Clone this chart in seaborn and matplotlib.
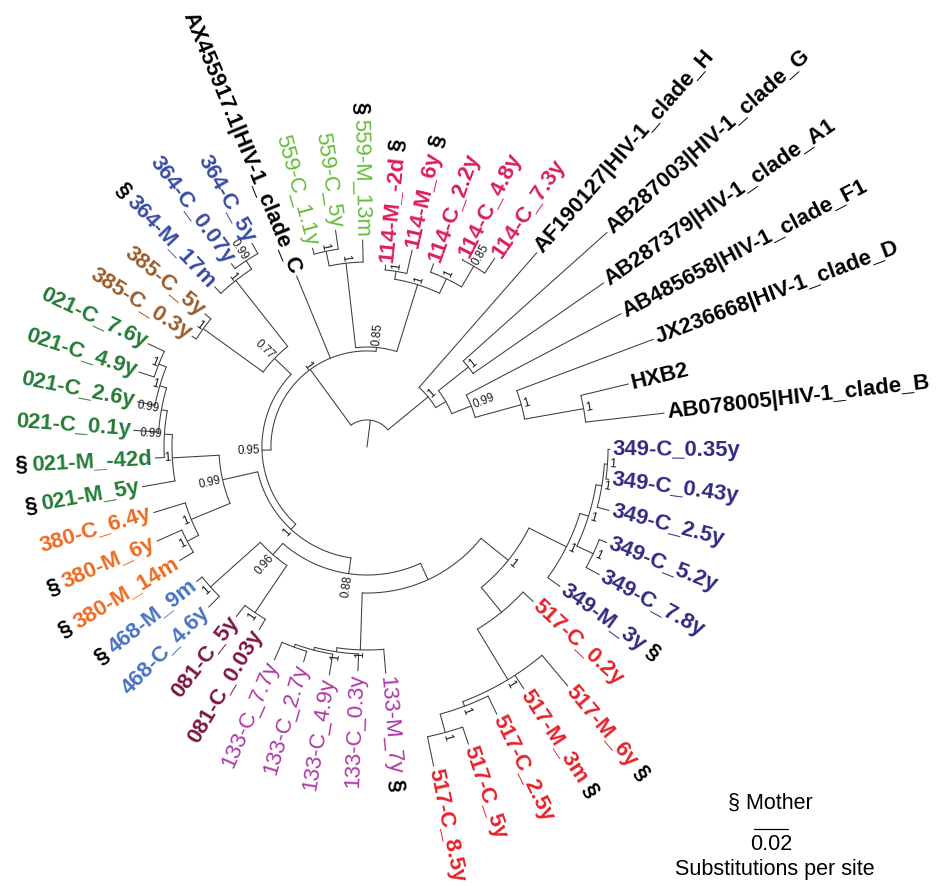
import numpy as np
import pandas as pd
import matplotlib
matplotlib.use("Agg")
import matplotlib.pyplot as plt
import seaborn as sns

sns.set_theme(style="white")
plt.rcParams["font.family"] = ["Liberation Sans", "DejaVu Sans"]

# ---------------------------------------------------------------- tree data
# Tips, listed counter-clockwise starting from the clade B reference
leaf_labels = [
    "AB078005|HIV-1_clade_B", "HXB2", "JX236668|HIV-1_clade_D", "AB485658|HIV-1_clade_F1",
    "AB287379|HIV-1_clade_A1", "AB287003|HIV-1_clade_G", "AF190127|HIV-1_clade_H",
    "114-C_7.3y", "114-C_4.8y", "114-C_2.2y", "114-M_6y", "114-M_-2d",
    "559-M_13m", "559-C_5y", "559-C_1.1y",
    "AX455917.1|HIV-1_clade_C",
    "364-C_5y", "364-C_0.07y", "364-M_17m",
    "385-C_5y", "385-C_0.3y",
    "021-C_7.6y", "021-C_4.9y", "021-C_2.6y", "021-C_0.1y", "021-M_-42d", "021-M_5y",
    "380-C_6.4y", "380-M_6y", "380-M_14m",
    "468-M_9m", "468-C_4.6y",
    "081-C_5y", "081-C_0.03y",
    "133-C_7.7y", "133-C_2.7y", "133-C_4.9y", "133-C_0.3y", "133-M_7y",
    "517-C_8.5y", "517-C_5y", "517-C_2.5y", "517-M_3m", "517-M_6y", "517-C_0.2y",
    "349-M_3y", "349-C_7.8y", "349-C_5.2y", "349-C_2.5y", "349-C_0.43y", "349-C_0.35y",
]
leaf_parent = [
    "HB", "HB", "Dn", "Fn", "GA", "GA", "Nout",
    "N114CC", "N114CC", "N114C", "N114M", "N114M",
    "N559", "N559C", "N559C",
    "Nin",
    "N364C", "N364C", "N364",
    "N385", "N385",
    "X4", "X4", "X3", "X2", "X1", "N021",
    "N380", "N380M", "N380M",
    "N468", "N468",
    "N081", "N081",
    "Y3", "Y3", "Y2", "Y1", "N133",
    "Cn2", "Cn2", "Cn1", "N517b", "N517b", "N517",
    "N349", "N5278", "N5278", "Z1", "Z2", "Z2",
]
# distance from the centre of the tree (substitutions per site)
leaf_depth = [
    0.1759, 0.1582, 0.1800, 0.1688, 0.1694, 0.1894, 0.1518,
    0.1341, 0.1241, 0.1147, 0.1188, 0.1076,
    0.1218, 0.1288, 0.1212,
    0.1088,
    0.1376, 0.1341, 0.1300,
    0.1235, 0.1218,
    0.1424, 0.1412, 0.1376, 0.1376, 0.1247, 0.1341,
    0.1312, 0.1353, 0.1288,
    0.1276, 0.1324,
    0.1259, 0.1247,
    0.1365, 0.1318, 0.1359, 0.1318, 0.1335,
    0.1918, 0.1847, 0.1747, 0.1694, 0.1835, 0.1335,
    0.1400, 0.1559, 0.1518, 0.1471, 0.1435, 0.1429,
]

node_names = ["root", "Nout", "N2", "GA", "Fn", "Dn", "HB",
              "Nin", "N085", "N559", "N559C", "N114", "N114M", "N114C", "N114CC",
              "N095", "N077", "N364", "N364C", "N385",
              "NA", "N099", "N021", "X1", "X2", "X3", "X4", "N380", "N380M",
              "NB", "N096", "N468", "N081",
              "N088", "N133", "Y1", "Y2", "Y3",
              "N35", "N349", "N349C", "Z1", "Z2", "N5278",
              "N517", "N517b", "Cn1", "Cn2"]
node_parents = [None, "root", "Nout", "N2", "N2", "Fn", "Dn",
                "root", "Nin", "N085", "N559", "N085", "N114", "N114", "N114C",
                "Nin", "N095", "N077", "N364", "N077",
                "N095", "NA", "N099", "N021", "X1", "X2", "X3", "N099", "N380",
                "NA", "NB", "N096", "N096",
                "NB", "N088", "N133", "Y1", "Y2",
                "N088", "N35", "N349", "N349C", "Z1", "N349C",
                "N35", "N517", "N517b", "Cn1"]
node_depth = [0.0159, 0.0465, 0.0535, 0.0759, 0.0659, 0.0941, 0.1294,
              0.0565, 0.0588, 0.1088, 0.1176, 0.1000, 0.1047, 0.1094, 0.1235,
              0.0618, 0.0753, 0.1247, 0.1306, 0.1188,
              0.0659, 0.0871, 0.1147, 0.1194, 0.1229, 0.1271, 0.1318, 0.1118, 0.1194,
              0.0753, 0.0841, 0.1235, 0.1176,
              0.0859, 0.1194, 0.1218, 0.1235, 0.1253,
              0.1065, 0.1312, 0.1365, 0.1400, 0.1418, 0.1471,
              0.1253, 0.1600, 0.1629, 0.1741]
# posterior support shown at nodes (None = not shown)
node_support = [None, 1, None, 1, 0.99, 1, 1,
                1, 0.85, 1, 1, 1, 1, 1, 0.85,
                0.95, 0.77, 1, 0.99, 1,
                1, 0.99, 1, 0.99, 0.99, 1, 1, 1, 1,
                0.88, 0.96, 1, 1,
                None, 1, 1, None, None,
                1, 1, 1, 1, 1, 1,
                None, 1, 1, 1]

group_colors = {
    "ref": "#000000", "114": "#DA1E5C", "559": "#66BC38", "364": "#3A4CA3",
    "385": "#9A5D2B", "021": "#247B36", "380": "#EE6B21", "468": "#4773C3",
    "081": "#7B1646", "133": "#AE36A6", "517": "#E4232A", "349": "#2F2A80",
}
light_groups = {"559", "133"}

scale_value = 0.02
scale_label = "Substitutions per site"
legend_label = "\u00a7 Mother"

# ---------------------------------------------------------------- layout
PX_PER_SUB = 1700.0           # drawing scale (pixels per substitution/site)
CX, CY = 367.0, 447.0         # centre of the circular layout
START_ANGLE = 6.5             # angle of the first tip (degrees)
STEP = 360.0 / len(leaf_labels)

children = {}
depth = {}
for n, p, d in zip(node_names, node_parents, node_depth):
    depth[n] = d
    if p is not None:
        children.setdefault(p, []).append(n)
for lab, p, d in zip(leaf_labels, leaf_parent, leaf_depth):
    depth[lab] = d
    children.setdefault(p, []).append(lab)

angle = {lab: START_ANGLE + i * STEP for i, lab in enumerate(leaf_labels)}


def place(n):
    # internal nodes sit at the mean angle of their children
    if n in angle:
        return angle[n]
    a = [place(c) for c in children[n]]
    angle[n] = float(np.mean(a))
    return angle[n]


place("root")


def xy(r, th):
    t = np.deg2rad(th)
    return CX + r * np.cos(t), CY - r * np.sin(t)


# branch geometry as a long table for seaborn
rows = []
seg = 0
parent_of = dict(zip(node_names, node_parents))
parent_of.update(dict(zip(leaf_labels, leaf_parent)))
for n, p in parent_of.items():
    if p is None:
        r0, r1 = 0.0, depth[n] * PX_PER_SUB   # root stub
    else:
        r0, r1 = depth[p] * PX_PER_SUB, depth[n] * PX_PER_SUB
    for r in (r0, r1):
        x, y = xy(r, angle[n])
        rows.append((seg, x, y))
    seg += 1
for n, ch in children.items():
    a = [angle[c] for c in ch]
    r = depth[n] * PX_PER_SUB
    for th in np.linspace(min(a), max(a), 80):
        x, y = xy(r, th)
        rows.append((seg, x, y))
    seg += 1
branches = pd.DataFrame(rows, columns=["seg", "x", "y"])

# ---------------------------------------------------------------- drawing
fig = plt.figure(figsize=(9.4, 8.86), dpi=100)
fig.patch.set_facecolor("white")
ax = fig.add_axes([0, 0, 1, 1])

sns.lineplot(data=branches, x="x", y="y", units="seg", estimator=None, sort=False,
             color="#3c3c3c", linewidth=0.75, ax=ax, legend=False)

ax.set_xlim(0, 940)
ax.set_ylim(886, 0)
ax.set_aspect("equal")
ax.axis("off")

fig.canvas.draw()
renderer = fig.canvas.get_renderer()


def text_width(s, **kw):
    t = ax.text(0, 0, s, **kw)
    w = t.get_window_extent(renderer).width
    t.remove()
    return w


def radial_text(r, th, s, **kw):
    x, y = xy(r, th)
    right = np.cos(np.deg2rad(th)) > 0
    rot = ((th + 180) % 360) - 180 if right else (th % 360) - 180
    return ax.text(x, y, s, rotation=rot, rotation_mode="anchor",
                   ha="left" if right else "right", va="center", **kw)


LEAF_FS = 15.9
for lab in leaf_labels:
    grp = lab[:3] if lab[:3].isdigit() else "ref"
    weight = "normal" if grp in light_groups else "bold"
    kw = dict(fontsize=LEAF_FS, fontweight=weight, color=group_colors[grp])
    r = depth[lab] * PX_PER_SUB + 3
    radial_text(r, angle[lab], lab, **kw)
    if "-M_" in lab:
        w = text_width(lab, fontsize=LEAF_FS, fontweight=weight)
        radial_text(r + w + 5, angle[lab], "\u00a7", fontsize=LEAF_FS,
                    fontweight="bold", color="black")

for n, s in zip(node_names, node_support):
    if s is None:
        continue
    txt = "1" if s == 1 else f"{s:.2f}"
    radial_text(depth[n] * PX_PER_SUB + 2, angle[n], txt,
                fontsize=8.3, color="#1a1a1a")

# legend and scale bar
ax.text(770, 803, legend_label, fontsize=15.5, ha="center", va="center", color="black")
bar = scale_value * PX_PER_SUB
ax.plot([771 - bar / 2, 771 + bar / 2], [829, 829], color="black", lw=0.9)
ax.text(771, 845, f"{scale_value:g}", fontsize=15.5, ha="center", va="center", color="black")
ax.text(775, 870, scale_label, fontsize=15.5, ha="center", va="center", color="black")

fig.savefig("out.png", dpi=100, facecolor="white")
